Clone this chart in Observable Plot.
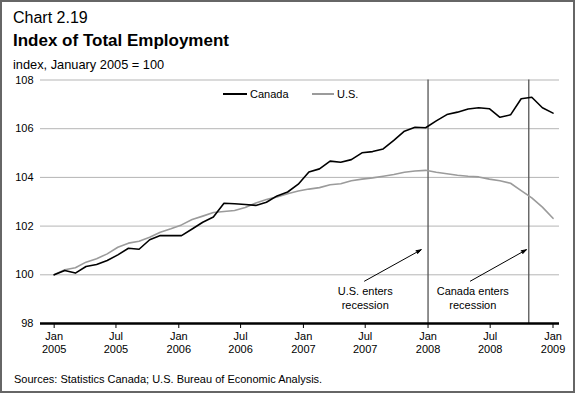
<!DOCTYPE html>
<html><head><meta charset="utf-8">
<script src="https://cdn.jsdelivr.net/npm/d3@7"></script>
<script src="https://cdn.jsdelivr.net/npm/@observablehq/plot@0.6"></script>
<style>
body{margin:0;background:#fff;font-family:"Liberation Sans",Arial,Helvetica,sans-serif;}
#wrap{position:relative;width:575px;height:393px;overflow:hidden;background:#fff;}
#frame{position:absolute;left:0;top:0;width:575px;height:393px;box-sizing:border-box;border:2px solid #666;z-index:5;pointer-events:none}
.t{position:absolute;white-space:nowrap;color:#000;}
#chart{position:absolute;left:0;top:72px;}
.sw{position:absolute;height:2px;z-index:3}
</style></head>
<body><div id="wrap">
<div id="frame"></div>
<div class="t" style="left:13px;top:9.5px;font-size:16px;line-height:16px">Chart 2.19</div>
<div class="t" style="left:13px;top:31.6px;font-size:17px;line-height:17px;font-weight:bold">Index of Total Employment</div>
<div class="t" style="left:13px;top:59.2px;font-size:12.8px;line-height:12.8px">index, January 2005 = 100</div>
<div id="chart"></div>
<div class="sw" style="left:223px;top:93.3px;width:24px;background:#000"></div>
<div class="t" style="left:250px;top:88.7px;font-size:11px;line-height:11px;z-index:3">Canada</div>
<div class="sw" style="left:312px;top:93.3px;width:22px;background:#9b9b9b"></div>
<div class="t" style="left:337px;top:88.7px;font-size:11px;line-height:11px;z-index:3">U.S.</div>
<div class="t" style="left:14px;top:374.2px;font-size:11px;line-height:11px">Sources: Statistics Canada; U.S. Bureau of Economic Analysis.</div>
</div>
<script>
// Monthly index values, January 2005 to December 2008 (January 2005 = 100)
const canada = [100.0, 100.18, 100.07, 100.34, 100.42, 100.59, 100.82, 101.09, 101.05, 101.44,
  101.61, 101.61, 101.61, 101.88, 102.16, 102.37, 102.94, 102.92, 102.89, 102.85,
  102.98, 103.24, 103.40, 103.72, 104.22, 104.35, 104.67, 104.62, 104.73, 105.01,
  105.06, 105.17, 105.52, 105.90, 106.06, 106.04, 106.32, 106.58, 106.68, 106.81,
  106.86, 106.82, 106.47, 106.57, 107.23, 107.29, 106.86, 106.64];
const us = [100.0, 100.21, 100.29, 100.52, 100.66, 100.86, 101.13, 101.30, 101.38, 101.54,
  101.75, 101.89, 102.05, 102.27, 102.41, 102.56, 102.60, 102.64, 102.76, 102.95,
  103.09, 103.20, 103.33, 103.44, 103.52, 103.58, 103.70, 103.74, 103.86, 103.93,
  103.98, 104.05, 104.12, 104.21, 104.26, 104.29, 104.21, 104.15, 104.09, 104.05,
  104.02, 103.93, 103.86, 103.76, 103.46, 103.16, 102.78, 102.32];

const tickDates = ["2005-01-01","2005-07-01","2006-01-01","2006-07-01","2007-01-01","2007-07-01","2008-01-01","2008-07-01","2009-01-01"];
const tickLabels = ["Jan\n2005","Jul\n2005","Jan\n2006","Jul\n2006","Jan\n2007","Jul\n2007","Jan\n2008","Jul\n2008","Jan\n2009"];
const yTicks = [98, 100, 102, 104, 106, 108];
const gridValues = [100, 102, 104, 106, 108];
const recessionDates = ["2008-01-01", "2008-10-22"];
const noteLabels = ["U.S. enters\nrecession", "Canada enters\nrecession"];
const noteDates = ["2007-07-01", "2008-05-11"];
const noteValue = [99.06, 99.06];
const arrowFrom = [["2007-06-29", 99.74], ["2008-05-04", 99.74]];
const arrowTo = [["2007-12-12", 101.03], ["2008-10-15", 101.03]];

const t0 = Date.UTC(2005, 0, 1), t1 = Date.UTC(2009, 0, 1);
const rows = canada.map((c, i) => ({date: new Date(t0 + i * (t1 - t0) / (canada.length - 1)), canada: c, us: us[i]}));
const ticks = tickDates.map(d => new Date(d));
const notes = noteLabels.map((l, i) => ({label: l, date: new Date(noteDates[i]), y: noteValue[i]}));
const arrows = arrowFrom.map((f, i) => ({x1: new Date(f[0]), y1: f[1], x2: new Date(arrowTo[i][0]), y2: arrowTo[i][1]}));

const svg = Plot.plot({
  width: 575, height: 293,
  marginTop: 7.5, marginBottom: 42, marginLeft: 40, marginRight: 16,
  style: {fontFamily: "Liberation Sans, Arial, sans-serif", fontSize: "11px", background: "transparent", overflow: "visible", color: "#000"},
  x: {type: "utc", domain: [new Date("2004-11-22"), new Date("2009-01-20")]},
  y: {domain: [98, 108]},
  marks: [
    Plot.ruleY(gridValues, {stroke: "#b5b5b5", strokeWidth: 1}),
    Plot.ruleX(recessionDates.map(d => new Date(d)), {y1: 98, y2: 108, stroke: "#555", strokeWidth: 1.3}),
    Plot.line(rows, {x: "date", y: "us", stroke: "#9b9b9b", strokeWidth: 1.6}),
    Plot.line(rows, {x: "date", y: "canada", stroke: "#000", strokeWidth: 1.6}),
    Plot.arrow(arrows, {x1: "x1", y1: "y1", x2: "x2", y2: "y2", stroke: "#000", strokeWidth: 1, headLength: 8, headAngle: 36}),
    Plot.text(notes, {x: "date", y: "y", text: "label", fontSize: 11, lineHeight: 1.2, fill: "#000"}),
    Plot.ruleY([98], {stroke: "#000", strokeWidth: 2.5}),
    Plot.axisY({ticks: yTicks, tickSize: 0, tickPadding: 7, label: null, fontSize: 11}),
    Plot.axisX({ticks: ticks, tickFormat: d => tickLabels[ticks.findIndex(t => +t === +d)], tickSize: 5, tickPadding: 3, label: null, fontSize: 11, lineHeight: 1.12})
  ]
});
d3.select(svg).selectAll('g[aria-label="arrow"] path').attr("fill", "#000");
document.getElementById("chart").appendChild(svg);
</script>
</body></html>
